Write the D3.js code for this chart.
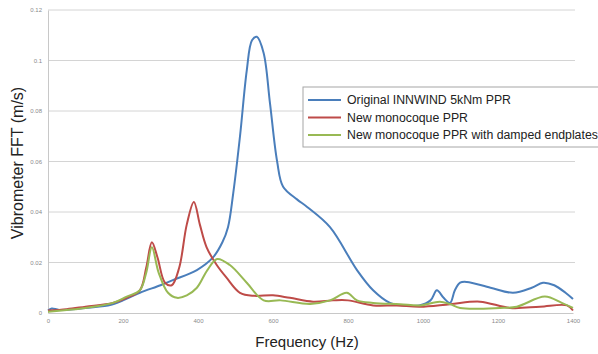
<!DOCTYPE html>
<html>
<head>
<meta charset="utf-8">
<script src="https://cdn.jsdelivr.net/npm/d3@7/dist/d3.min.js"></script>
<style>
  html, body { margin: 0; padding: 0; background: #fff; }
  svg { display: block; font-family: "Liberation Sans", Arial, sans-serif; }
</style>
</head>
<body>
<svg id="chart" width="598" height="354"></svg>
<script>
// Frequency response of three PPR designs (vibrometer FFT amplitude)
const xTicks = [0, 200, 400, 600, 800, 1000, 1200, 1400];
const yTicks = [0, 0.02, 0.04, 0.06, 0.08, 0.1, 0.12];

const seriesNames = [
  "Original INNWIND 5kNm PPR",
  "New monocoque PPR",
  "New monocoque PPR with damped endplates"
];
const seriesColors = ["#4a7ebb", "#be4b48", "#98b954"];

const originalFreq = [0, 10, 30, 100, 160, 175, 200, 245, 300, 333, 397, 440, 465, 480, 494, 512, 530, 544, 557, 575, 592, 611, 627, 664, 691, 752, 824, 867, 912, 950, 990, 1020, 1037, 1055, 1072, 1085, 1099, 1117, 1180, 1240, 1290, 1320, 1350, 1380, 1400];
const originalVals = [0.001, 0.0018, 0.0012, 0.002, 0.003, 0.0035, 0.005, 0.008, 0.011, 0.013, 0.017, 0.022, 0.028, 0.034, 0.0475, 0.070, 0.096, 0.108, 0.1094, 0.103, 0.083, 0.060, 0.0500, 0.0450, 0.042, 0.034, 0.017, 0.009, 0.004, 0.003, 0.003, 0.005, 0.009, 0.006, 0.004, 0.009, 0.012, 0.0123, 0.010, 0.008, 0.010, 0.012, 0.011, 0.008, 0.0055];

const monoFreq = [0, 50, 100, 173, 210, 245, 262, 277, 292, 312, 330, 350, 370, 389, 405, 423, 450, 476, 512, 550, 600, 645, 707, 760, 800, 867, 930, 992, 1072, 1152, 1232, 1312, 1384, 1400];
const monoVals = [0.001, 0.0015, 0.0025, 0.004, 0.006, 0.009, 0.018, 0.028, 0.022, 0.012, 0.011, 0.018, 0.035, 0.044, 0.035, 0.026, 0.019, 0.014, 0.008, 0.0068, 0.007, 0.006, 0.0045, 0.005, 0.005, 0.003, 0.003, 0.0025, 0.0035, 0.0045, 0.002, 0.0025, 0.003, 0.001];

const dampedFreq = [0, 50, 100, 173, 210, 245, 262, 277, 295, 320, 344, 370, 397, 425, 451, 485, 530, 575, 620, 699, 752, 797, 824, 867, 939, 992, 1045, 1072, 1099, 1205, 1250, 1325, 1370, 1400];
const dampedVals = [0.0005, 0.0012, 0.002, 0.004, 0.0065, 0.009, 0.016, 0.026, 0.016, 0.008, 0.006, 0.007, 0.010, 0.017, 0.0214, 0.019, 0.012, 0.005, 0.005, 0.0036, 0.005, 0.008, 0.005, 0.004, 0.0035, 0.003, 0.0045, 0.0035, 0.002, 0.002, 0.0025, 0.0065, 0.004, 0.002];

const series = [
  { name: seriesNames[0], color: seriesColors[0], freq: originalFreq, vals: originalVals },
  { name: seriesNames[1], color: seriesColors[1], freq: monoFreq, vals: monoVals },
  { name: seriesNames[2], color: seriesColors[2], freq: dampedFreq, vals: dampedVals }
];

const svg = d3.select("#chart");
const plot = { left: 48, right: 573, top: 10, bottom: 313 };

const x = d3.scaleLinear().domain([0, 1400]).range([plot.left, plot.right]);
const y = d3.scaleLinear().domain([0, 0.12]).range([plot.bottom, plot.top]);

svg.append("rect").attr("width", 598).attr("height", 354).attr("fill", "#fff");

// horizontal gridlines
svg.append("g")
  .selectAll("line")
  .data(yTicks.filter(d => d > 0))
  .join("line")
  .attr("x1", plot.left).attr("x2", plot.right + 2)
  .attr("y1", d => y(d)).attr("y2", d => y(d))
  .attr("stroke", "#d4d4d4").attr("stroke-width", 1);

// y axis
const yAxis = svg.append("g")
  .attr("transform", `translate(${plot.left},0)`)
  .call(d3.axisLeft(y).tickValues(yTicks).tickFormat(d => d === 0 ? "0" : String(+d.toFixed(2))).tickSize(0).tickPadding(6));
yAxis.select(".domain").attr("stroke", "#c8c8c8");
yAxis.selectAll("text").attr("font-size", 6).attr("fill", "#8a8a8a").attr("font-family", "Liberation Sans, Arial, sans-serif");

// x axis
const xAxis = svg.append("g")
  .attr("transform", `translate(0,${plot.bottom})`)
  .call(d3.axisBottom(x).tickValues(xTicks).tickFormat(d => String(d)).tickSize(0).tickPadding(6));
xAxis.select(".domain").attr("stroke", "#c8c8c8");
xAxis.selectAll("text").attr("font-size", 6).attr("fill", "#8a8a8a").attr("font-family", "Liberation Sans, Arial, sans-serif");

// series lines
const line = d3.line()
  .x(d => x(d[0]))
  .y(d => y(d[1]))
  .curve(d3.curveCatmullRom.alpha(0.5));

svg.append("g")
  .selectAll("path")
  .data(series)
  .join("path")
  .attr("d", s => line(s.freq.map((f, i) => [f, s.vals[i]])))
  .attr("fill", "none")
  .attr("stroke", s => s.color)
  .attr("stroke-width", 2)
  .attr("stroke-linejoin", "round");

// axis titles
svg.append("text")
  .attr("transform", "translate(23,163) rotate(-90)")
  .attr("text-anchor", "middle")
  .attr("font-size", 16)
  .attr("fill", "#222")
  .text("Vibrometer FFT (m/s)");

svg.append("text")
  .attr("x", 307).attr("y", 347)
  .attr("text-anchor", "middle")
  .attr("font-size", 15)
  .attr("fill", "#222")
  .text("Frequency (Hz)");

// legend
const legend = svg.append("g").attr("transform", "translate(303,87)");
legend.append("rect")
  .attr("width", 300).attr("height", 60)
  .attr("fill", "#fff").attr("stroke", "#a6a6a6").attr("stroke-width", 1);
const rows = legend.selectAll("g")
  .data(series)
  .join("g")
  .attr("transform", (d, i) => `translate(0,${13 + i * 17.5})`);
rows.append("line")
  .attr("x1", 5).attr("x2", 38)
  .attr("stroke", d => d.color).attr("stroke-width", 2);
rows.append("text")
  .attr("x", 44).attr("dy", "0.35em")
  .attr("font-size", 12.3)
  .attr("fill", "#222")
  .text(d => d.name);
</script>
</body>
</html>
